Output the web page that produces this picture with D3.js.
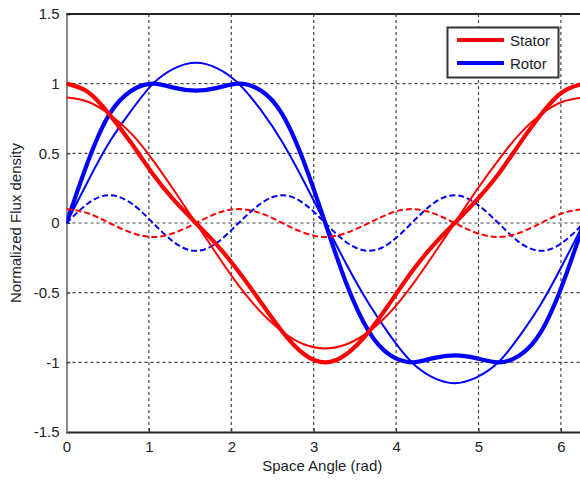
<!DOCTYPE html>
<html>
  <head>
    <meta charset="utf-8">
    <title>Stator and Rotor Flux Density</title>
    <script src="https://d3js.org/d3.v7.min.js"></script>
    <style>
      body { margin: 0; background: #fff; }
      text { font-family: "Liberation Sans", Arial, sans-serif; fill: #1c1c2a; }
    </style>
  </head>
  <body>
    <div id="chart"></div>
    <script>
      const angle = [0, 0.26, 0.52, 0.79, 1.05, 1.31, 1.57, 1.83, 2.09, 2.36, 2.62, 2.88, 3.14,
        3.40, 3.67, 3.93, 4.19, 4.45, 4.71, 4.97, 5.24, 5.50, 5.76, 6.02, 6.28];

      const statorTotal = [1.00, 0.94, 0.78, 0.57, 0.35, 0.16, 0, -0.16, -0.35, -0.57, -0.78, -0.94, -1.00,
        -0.94, -0.78, -0.57, -0.35, -0.16, 0, 0.16, 0.35, 0.57, 0.78, 0.94, 1.00];
      const statorFund = [0.90, 0.87, 0.78, 0.64, 0.45, 0.23, 0, -0.23, -0.45, -0.64, -0.78, -0.87, -0.90,
        -0.87, -0.78, -0.64, -0.45, -0.23, 0, 0.23, 0.45, 0.64, 0.78, 0.87, 0.90];
      const statorThird = [0.10, 0.07, 0, -0.07, -0.10, -0.07, 0, 0.07, 0.10, 0.07, 0, -0.07, -0.10,
        -0.07, 0, 0.07, 0.10, 0.07, 0, -0.07, -0.10, -0.07, 0, 0.07, 0.10];

      const rotorTotal = [0, 0.44, 0.78, 0.95, 1.00, 0.97, 0.95, 0.97, 1.00, 0.95, 0.78, 0.44, 0,
        -0.44, -0.78, -0.95, -1.00, -0.97, -0.95, -0.97, -1.00, -0.95, -0.78, -0.44, 0];
      const rotorFund = [0, 0.30, 0.58, 0.81, 1.00, 1.11, 1.15, 1.11, 1.00, 0.81, 0.58, 0.30, 0,
        -0.30, -0.58, -0.81, -1.00, -1.11, -1.15, -1.11, -1.00, -0.81, -0.58, -0.30, 0];
      const rotorThird = [0, 0.14, 0.20, 0.14, 0, -0.14, -0.20, -0.14, 0, 0.14, 0.20, 0.14, 0,
        -0.14, -0.20, -0.14, 0, 0.14, 0.20, 0.14, 0, -0.14, -0.20, -0.14, 0];

      const xTicks = [0, 1, 2, 3, 4, 5, 6];
      const yTicks = [-1.5, -1, -0.5, 0, 0.5, 1, 1.5];
      const legendLabels = ["Stator", "Rotor"];
      const colors = {stator: "#ff0000", rotor: "#0000ff"};

      const W = 580, H = 480;
      const plotLeft = 66.5, plotTop = 14, plotBottom = 432;
      const xMax = 6.2832;
      const plotRight = plotLeft + 82.4 * xMax;

      const x = d3.scaleLinear().domain([0, xMax]).range([plotLeft, plotRight]);
      const y = d3.scaleLinear().domain([-1.5, 1.5]).range([plotBottom, plotTop]);

      const svg = d3.select("#chart")
        .append("svg")
        .attr("width", W)
        .attr("height", H);

      svg.append("defs").append("clipPath").attr("id", "plot")
        .append("rect")
        .attr("x", plotLeft).attr("y", plotTop)
        .attr("width", plotRight - plotLeft).attr("height", plotBottom - plotTop);

      // dotted grid
      const grid = svg.append("g");
      grid.selectAll(".gx").data(xTicks.slice(1))
        .join("line")
        .attr("x1", d => x(d)).attr("x2", d => x(d))
        .attr("y1", plotTop).attr("y2", plotBottom)
        .attr("stroke", "#444").attr("stroke-width", 1.2)
        .attr("stroke-dasharray", "3,3");
      grid.selectAll(".gy").data(yTicks.slice(1, -1))
        .join("line")
        .attr("x1", plotLeft).attr("x2", plotRight)
        .attr("y1", d => y(d)).attr("y2", d => y(d))
        .attr("stroke", "#444").attr("stroke-width", 1.2)
        .attr("stroke-dasharray", "3,3");

      // axes, MATLAB style ticks inside
      const xAxis = svg.append("g")
        .attr("transform", `translate(0,${plotBottom})`)
        .call(d3.axisBottom(x).tickValues(xTicks).tickSize(-4).tickPadding(9).tickFormat(d => String(d)));
      const yAxis = svg.append("g")
        .attr("transform", `translate(${plotLeft},0)`)
        .call(d3.axisLeft(y).tickValues(yTicks).tickSize(-4).tickPadding(7).tickFormat(d => String(d)));

      xAxis.select(".domain").attr("stroke", "#222").attr("stroke-width", 2);
      yAxis.select(".domain").attr("stroke", "#888").attr("stroke-width", 2);
      svg.selectAll(".tick line").attr("stroke", "#333");
      svg.selectAll(".tick text").attr("font-size", 15).attr("fill", "#1c1c2a")
        .attr("font-family", "'Liberation Sans', Arial, sans-serif");

      // top border
      svg.append("line")
        .attr("x1", plotLeft).attr("x2", W)
        .attr("y1", plotTop).attr("y2", plotTop)
        .attr("stroke", "#222").attr("stroke-width", 2);

      const line = d3.line()
        .x((d, i) => x(angle[i]))
        .y(d => y(d))
        .curve(d3.curveNatural);

      const series = [
        {values: rotorTotal, color: colors.rotor, w: 4.2, dash: null},
        {values: rotorFund, color: colors.rotor, w: 2, dash: null},
        {values: rotorThird, color: colors.rotor, w: 2, dash: "6,3"},
        {values: statorTotal, color: colors.stator, w: 4.2, dash: null},
        {values: statorFund, color: colors.stator, w: 2, dash: null},
        {values: statorThird, color: colors.stator, w: 2, dash: "6,3"}
      ];

      svg.append("g").attr("clip-path", "url(#plot)")
        .selectAll("path").data(series)
        .join("path")
        .attr("d", d => line(d.values))
        .attr("fill", "none")
        .attr("stroke", d => d.color)
        .attr("stroke-width", d => d.w)
        .attr("stroke-dasharray", d => d.dash);

      // legend
      const legend = svg.append("g");
      legend.append("rect")
        .attr("x", 447.5).attr("y", 27.5)
        .attr("width", 111).attr("height", 50)
        .attr("fill", "#fff").attr("stroke", "#333").attr("stroke-width", 2);
      legendLabels.forEach((name, i) => {
        const ly = 40 + i * 23;
        legend.append("line")
          .attr("x1", 457).attr("x2", 504)
          .attr("y1", ly).attr("y2", ly)
          .attr("stroke", i === 0 ? colors.stator : colors.rotor)
          .attr("stroke-width", 4);
        legend.append("text")
          .attr("x", 510).attr("y", ly + 5.5)
          .attr("font-size", 15)
          .text(name);
      });

      // axis labels
      svg.append("text")
        .attr("x", (plotLeft + 562) / 2 + 8).attr("y", 471)
        .attr("text-anchor", "middle")
        .attr("font-size", 15)
        .text("Space Angle (rad)");
      svg.append("text")
        .attr("transform", `translate(21,${(plotTop + plotBottom) / 2}) rotate(-90)`)
        .attr("text-anchor", "middle")
        .attr("font-size", 15)
        .text("Normalized Flux density");
    </script>
  </body>
</html>
